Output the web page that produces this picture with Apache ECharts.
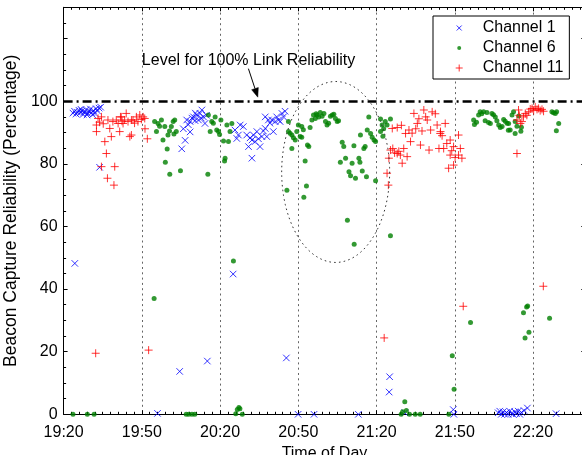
<!DOCTYPE html>
<html><head><meta charset="utf-8">
<script src="https://cdn.jsdelivr.net/npm/echarts@6/dist/echarts.min.js"></script>
<style>html,body{margin:0;padding:0;background:#fff}#c{width:582px;height:455px}</style>
</head><body><div id="c"></div>
<script>
// x = minutes after 19:20, y = beacon capture reliability (%)
const xTickLabels = ['19:20','19:50','20:20','20:50','21:20','21:50','22:20'];
const yTickLabels = [0, 20, 40, 60, 80, 100];

const ch1 = [
 [3.6,96.2],[4.2,96.8],[4.8,95.9],[5.3,96.5],[5.9,97.1],[6.4,96.3],[6.7,97.4],[7,96.9],[7.5,95.8],[8.1,96.6],
 [8.6,97.3],[9,95.6],[9.2,96.1],[9.7,96.8],[10.3,97.5],[10.8,96.4],[11.1,95.7],[11.4,97],[11.9,96.2],[12.5,97.6],
 [13,96.9],[13.6,97.8],[14.2,98.1],[4.3,48.2],[13.8,78.9],
 [45.3,84.8],[45.9,91.2],[46.6,87.5],[47.2,94],[47.8,92.5],[48.5,93.5],[48.5,90.2],[49.2,94.6],[49.8,95],[50.4,93.8],
 [50.5,96.2],[51,95.6],[51.7,94],[52.3,96.1],[52.8,94.6],[53,97.2],[53.6,95],[54.2,92.9],[54.8,95.5],
 [65.7,90.8],[66.4,88.1],[67,89.2],[67.7,92.4],[68.9,91.9],[70.2,89.2],[70.9,85.5],[71.5,88.3],[72.2,87.6],[72.2,81.8],
 [72.8,89.2],[73.4,87.1],[74.1,90.3],[74.7,88],[75.3,85.5],[76,88.7],[76.6,90.5],[77.3,91.3],[77.9,88.7],[77.3,95],
 [78.5,94],[79.1,93],[79.8,94],[80.4,90.3],[81.1,93.5],[81.7,95],[82.4,94],[83,93.5],[83.7,96.1],[84.3,95],[84.9,96.8],
 [65,44.8],[85.4,18],[89.9,0],[96,0],[113,0],
 [36,0.3],[44.5,13.7],[55.1,17],[124.8,7.1],[125,12],[130.8,0.5],[149.4,1.5],[149.6,0],[188.8,0.2],
 [166.6,0.5],[167.2,1],[167.8,0],[168.5,0.8],[169.1,0],[169.8,0.6],[170.4,0],[171,1],[171.7,0.3],[172.3,0],
 [173,0.8],[173.6,0.2],[174.3,1],[174.9,0],[175.5,0.6],[176.5,1.2],[177.8,2]
];

const ch6 = [
 [3.6,0],[9.1,0],[11.7,0],
 [34.9,93.5],[35.6,90.3],[36.2,92.9],[36.8,92],[37.5,94],[38.1,87.6],[38.8,91.9],[39.7,84.7],[39,80.5],[40,89.2],
 [40.7,76.7],[40.6,90.5],[41.3,91.9],[42,93.5],[42.6,94],[43.2,90.3],[42.3,89.5],[44.8,77.8],[34.7,37],
 [47,0],[48,0],[49.2,0],[50.3,0],
 [55.5,95.6],[55.3,76.7],[56.2,90.3],[56.8,93.5],[57.4,93],[58.1,95],[58.7,90.8],[59.4,90.3],[59.8,89.4],[60.3,94],
 [61.3,87.3],[61.7,80.9],[61.9,81.8],[62.6,92.4],[63.2,87.1],[63.8,90.3],[64.5,92.9],[65.1,49],
 [66,0.2],[66.6,1.5],[67.2,2.2],[67.6,1.8],[68.5,0],
 [85.6,71.6],[86.2,93.5],[86.2,90.3],[86.8,89.8],[87.5,89.2],[87.5,84.9],[88.1,88.3],[88.8,87.6],[89.4,90.3],[90,92.4],
 [90.7,88.7],[91.3,91.9],[91.3,88.5],[91.9,90.9],[92.1,69.3],[92.6,80.9],[93.1,72.9],[93.5,86],[94,85.5],[94.5,91.6],
 [95.2,94],[95.8,95.6],[96.5,94.5],[96.8,96],[97.2,95.6],[97.8,95],[98.4,96.4],[99.1,95.2],[99.8,96.1],[100.4,93.5],
 [101,92.4],[101.6,93],[102.3,95.2],[103,95.6],[103.6,95.8],[104.2,94.5],[104.9,93.5],[105.4,93.8],
 [106.1,80.5],[106.8,86.9],[107.4,85.5],[108.1,81.8],[108.8,62],[109.4,77.5],[110,76.2],[110.6,80.2],[111.3,85.8],[111.4,54.3],
 [111.9,75.4],[113.2,81.8],[113.6,80.5],[113.8,89.2],[114.5,77.7],[115.1,84.9],[115.6,85.5],[116.1,75.9],[116.4,90.8],[117,95],
 [117.7,89.7],[118.3,88.5],[119,87.6],[119.6,87.1],[119.6,74.6],[121.5,94.3],[121.5,90.3],[122.1,92.4],[122.7,91.2],[122.4,88.8],
 [123.3,93.5],[124,92.4],[125.3,94.3],[125.3,57],
 [129.4,0],[130,0.8],[130.8,4],[131.4,1.2],[132.6,0],[134.8,0],[136.7,0],[147.7,0],[149,18.7],[149.7,8],[156,29.3],
 [157.2,94],[157.5,92.6],[158.3,93.3],[159.1,95.6],[159.7,96.6],[160.3,96],[161,96.6],[161.6,93.8],[162.3,96.4],[162.9,93.2],
 [163.6,92.9],[164.2,96.1],[164.8,95.7],[165.5,95],[166.1,93.8],[166.8,92.4],[167.4,91.6],[168.1,91.9],[168.7,94.2],[169.3,93.6],
 [170,93],[170.5,90.7],[170.6,92.9],[171.2,90.8],[171.9,95.6],[172.5,96.6],[173.1,93.5],[173.1,89.7],[173.8,92],[174.5,95.3],
 [175.3,90.4],[175.5,91.7],
 [176.3,32.4],[176.9,24.4],[177.5,34.3],[177.9,34.6],[178.4,26.2],[186.3,30.7],
 [187.2,96.6],[187.8,96.3],[188.5,96.1],[189,96.6],[189.8,92.9],[188.9,90.6]
];

const ch11 = [
 [12.3,19.5],[12.6,92.4],[12.6,90.3],[13.2,94.5],[13.8,93.3],[14.5,95],[14.5,79.1],[15.2,92.8],[15.8,87.1],[16.4,83.3],
 [16.8,75.4],[17,94],[17.7,91.3],[18.3,88.7],[18.9,93.5],[19.3,73.2],[19.6,79.1],[20.2,94],[20.9,92.9],[21.5,90.3],
 [21.8,95],[22.1,95],[22.4,93.6],[22.8,92.9],[23.4,94],[24,96.1],[24.7,93.5],[25.4,88.7],[26,89.2],[26,94],[26.6,94],
 [27.2,93],[27.9,95],[28.5,93.5],[29.2,95.6],[29.8,94.2],[30.5,95],[31.1,94.5],[31.2,91.2],[32.1,88],[32.6,20.5],
 [122.9,24.4],[124,77],[124.5,73.2],[124.7,81.8],[125.3,84.4],[126,91.3],[126.2,84.9],[126.9,83.5],[127.9,83.3],[127.9,91.6],
 [128.5,84],[129.1,82.8],[129.8,80.2],[129.5,92.3],[130.4,84.9],[131.1,89.7],[131.7,82.3],[132.4,90.8],[133,87.1],[133.6,89.8],
 [134.3,96.1],[135,91.2],[135.6,92.9],[136.2,94.4],[136.8,86],[137.4,90.5],[138.1,97.2],[138.8,95],[139.4,94],[140.1,84.4],
 [140.7,90.8],[141.3,96.6],[142.5,96],[143.2,92.4],[143.9,84.9],[144.5,90.3],[145.1,89],[144.4,89.7],[145.7,84.9],[146.3,92.9],
 [146.9,86.5],[147.6,78.6],[148.2,87.6],[148.2,82.8],[148.8,84.2],[149.5,85.5],[149.5,79.6],[150.1,82],[151.4,89.2],[151.4,82.8],
 [152.1,84.9],[152.7,81.8],[153.2,34.5],
 [173.8,83.3],[173.8,94],[174.4,97.2],[174.7,95.5],[175.1,92.9],[175.7,93.5],[176.3,95],[177,96.1],[177.6,95.5],[178.3,96.6],
 [178.9,97.5],[179.6,97.7],[180.2,97],[180.8,98.2],[181.5,97.4],[182.1,97.7],[182.7,97],[183.4,97.4],[184,96.8],[183.9,40.9]
];

const seriesNames = ['Channel 1', 'Channel 6', 'Channel 11'];
const fullLevel = 100;
const annotationText = 'Level for 100% Link Reliability';

const X_PATH = 'path://M0,0L10,10M10,0L0,10';
const PLUS_PATH = 'path://M5,0L5,10M0,5L10,5';
const X_ICON = 'path://M0,0M10,10M2.5,2.5L7.5,7.5M7.5,2.5L2.5,7.5';
const DOT_ICON = 'path://M0,0M10,10M7,5A2,2,0,1,1,3,5A2,2,0,1,1,7,5Z';
const PLUS_ICON = 'path://M0,0M10,10M5,1.5L5,8.5M1.5,5L8.5,5';

const FONT = 'Liberation Sans, Arial, Helvetica, sans-serif';
const chart = echarts.init(document.getElementById('c'), null, {renderer: 'canvas'});

function xLabel(v) {
  if (v % 30 !== 0) return '';
  return xTickLabels[v / 30] || '';
}
function yLabel(v) { return yTickLabels.indexOf(v) >= 0 ? String(v) : ''; }

const axisCommon = {
  axisLine: {show: true, onZero: false, lineStyle: {color: '#000', width: 1}},
  axisTick: {show: true, inside: true, length: 4, lineStyle: {color: '#000', width: 1}},
};

chart.setOption({
  animation: false,
  textStyle: {fontFamily: FONT},
  grid: {left: 63.6, right: -3.3, top: 7.3, bottom: 40.7, containLabel: false, outerBoundsMode: 'none'},
  legend: {
    orient: 'vertical', left: 433, top: 16,
    itemWidth: 37, itemHeight: 10, itemGap: 4,
    padding: [4, 6, 3, 20.7],
    borderColor: '#000', borderWidth: 1, backgroundColor: '#fff', borderRadius: 0,
    textStyle: {fontSize: 16, color: '#000', fontFamily: FONT},
    selectedMode: false,
    data: [
      {name: seriesNames[0], icon: X_ICON, itemStyle: {color: 'rgba(0,0,0,0)', borderColor: '#0000ff', borderWidth: 1}},
      {name: seriesNames[1], icon: DOT_ICON, itemStyle: {color: '#008000', borderWidth: 0}},
      {name: seriesNames[2], icon: PLUS_ICON, itemStyle: {color: 'rgba(0,0,0,0)', borderColor: '#ff0000', borderWidth: 1}}
    ]
  },
  xAxis: [
    Object.assign({
      type: 'value', min: 0, max: 200, interval: 30, position: 'bottom',
      minorTick: {show: true, splitNumber: 10, length: 2.5, lineStyle: {color: '#000', width: 1}},
      axisLabel: {formatter: xLabel, fontSize: 16, color: '#000', margin: 10, fontFamily: FONT},
      splitLine: {show: true, lineStyle: {type: [2, 3.3], color: '#666', width: 1}},
      name: 'Time of Day', nameLocation: 'middle', nameGap: 29,
      nameTextStyle: {fontSize: 16, color: '#000', fontFamily: FONT}
    }, axisCommon),
    Object.assign({
      type: 'value', min: 0, max: 200, interval: 30, position: 'top',
      minorTick: {show: true, splitNumber: 10, length: 2.5, lineStyle: {color: '#000', width: 1}},
      axisLabel: {show: false}, splitLine: {show: false}
    }, axisCommon)
  ],
  yAxis: [
    Object.assign({
      type: 'value', min: 0, max: 130, interval: 20, position: 'left',
      minorTick: {show: true, splitNumber: 4, length: 2.5, lineStyle: {color: '#000', width: 1}},
      axisLabel: {formatter: yLabel, fontSize: 16, color: '#000', margin: 6, fontFamily: FONT},
      splitLine: {show: false},
      name: 'Beacon Capture Reliability (Percentage)', nameLocation: 'middle', nameGap: 28,
      nameTextStyle: {fontSize: 17.5, color: '#000', fontFamily: FONT}
    }, axisCommon),
    Object.assign({
      type: 'value', min: 0, max: 130, interval: 20, position: 'right',
      minorTick: {show: true, splitNumber: 4, length: 2.5, lineStyle: {color: '#000', width: 1}},
      axisLabel: {show: false}, splitLine: {show: false}
    }, axisCommon)
  ],
  series: [
    {
      name: seriesNames[0], type: 'scatter', data: ch1, xAxisIndex: 0, yAxisIndex: 0,
      symbol: X_PATH, symbolSize: 6.5,
      itemStyle: {color: 'rgba(0,0,0,0)', borderColor: '#0000ff', borderWidth: 1},
      markLine: {
        silent: true, symbol: 'none', label: {show: false},
        lineStyle: {color: '#000', width: 2.5, type: [9, 4, 2, 4]},
        data: [{yAxis: fullLevel}]
      }
    },
    {
      name: seriesNames[1], type: 'scatter', data: ch6, xAxisIndex: 0, yAxisIndex: 0,
      symbol: 'circle', symbolSize: 5,
      itemStyle: {color: '#008000', borderWidth: 0}
    },
    {
      name: seriesNames[2], type: 'scatter', data: ch11, xAxisIndex: 0, yAxisIndex: 0,
      symbol: PLUS_PATH, symbolSize: 8,
      itemStyle: {color: 'rgba(0,0,0,0)', borderColor: '#ff0000', borderWidth: 1}
    }
  ]
});

// annotations positioned via the axes' own scales
const P = (t, v) => chart.convertToPixel({xAxisIndex: 0, yAxisIndex: 0}, [t, v]);
const ellC = [104.3, 77.4], ellR = [20.7, 28.9];
const c = P(ellC[0], ellC[1]);
const rx = P(ellC[0] + ellR[0], ellC[1])[0] - c[0];
const ry = c[1] - P(ellC[0], ellC[1] + ellR[1])[1];
const ellPts = [];
for (let i = 0; i < 120; i++) {
  const a = i / 120 * Math.PI * 2;
  ellPts.push([c[0] + rx * Math.cos(a), c[1] + ry * Math.sin(a)]);
}
const S = P(70.85, 110.4), T = P(74.45, 101.3);
const dx = T[0] - S[0], dy = T[1] - S[1], L = Math.hypot(dx, dy);
const ux = dx / L, uy = dy / L, nx = -uy, ny = ux;
const hl = 9, hw = 3.5;
const B = [T[0] - ux * hl, T[1] - uy * hl];
const txt = P(30, 113);

chart.setOption({
  graphic: [
    {type: 'polygon', silent: true, z: 50, shape: {points: ellPts},
     style: {fill: null, stroke: '#333', lineWidth: 1, lineDash: [1.6, 3.2]}},
    {type: 'line', silent: true, z: 50, shape: {x1: S[0], y1: S[1], x2: B[0], y2: B[1]},
     style: {stroke: '#000', lineWidth: 1}},
    {type: 'polygon', silent: true, z: 50,
     shape: {points: [T, [B[0] + nx * hw, B[1] + ny * hw], [B[0] - nx * hw, B[1] - ny * hw]]},
     style: {fill: '#000', stroke: '#000', lineWidth: 0.5}},
    {type: 'text', silent: true, z: 50, x: txt[0], y: txt[1],
     style: {text: annotationText, fill: '#000', font: '16px ' + FONT, align: 'left', verticalAlign: 'middle'}}
  ]
});
</script></body></html>
